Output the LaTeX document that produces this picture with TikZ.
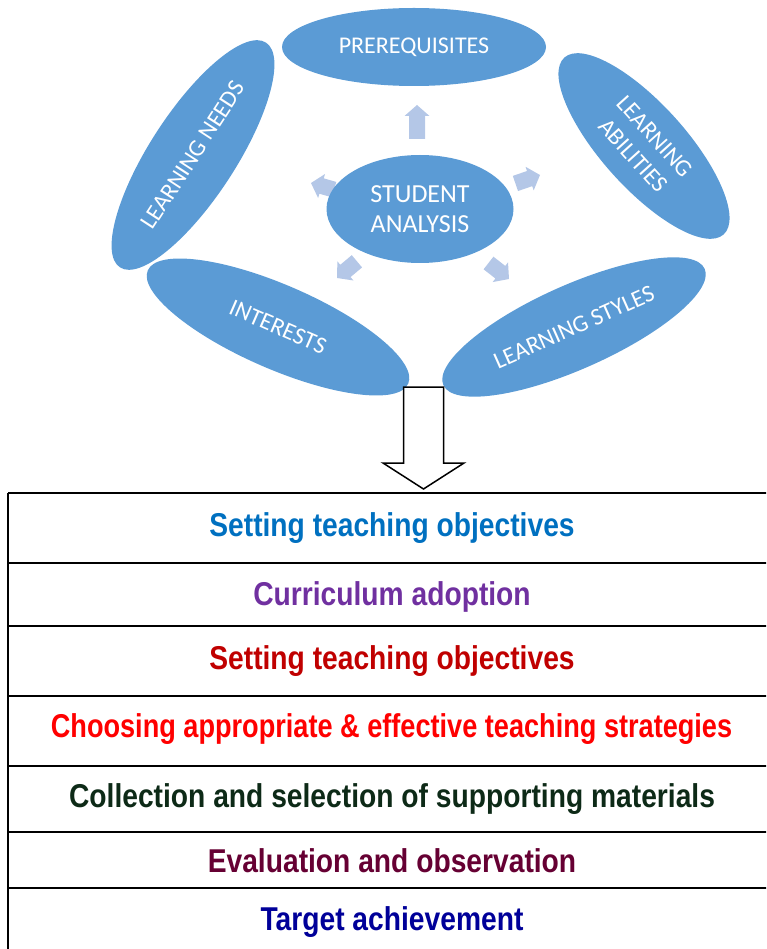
\documentclass[tikz,border=0pt]{standalone}
\usepackage{fontspec}
\setmainfont{Carlito}
\newfontfamily\tablefont{Liberation Sans}[FakeStretch=0.855]
\newfontfamily\tablefontnarrow{Liberation Sans}[FakeStretch=0.822]
\usetikzlibrary{shapes.geometric}

\definecolor{shapeblue}{HTML}{5B9BD5}
\definecolor{pointerblue}{HTML}{B4C7E7}
\definecolor{rowA}{HTML}{0070C0}
\definecolor{rowB}{HTML}{7030A0}
\definecolor{rowC}{HTML}{C00000}
\definecolor{rowD}{HTML}{FF0000}
\definecolor{rowE}{HTML}{0D2A17}
\definecolor{rowF}{HTML}{660033}
\definecolor{rowG}{HTML}{000099}

% light block arrow: tip position, direction (degrees), total length
\newcommand\pointerarrow[3]{%
  \begin{scope}[shift={#1}, rotate=#2]
    \fill[pointerblue] (0,0) -- (-11,12.5) -- (-11,8) -- (-#3,8) -- (-#3,-8)
      -- (-11,-8) -- (-11,-12.5) -- cycle;
  \end{scope}}

\begin{document}
\begin{tikzpicture}[x=1pt,y=-1pt,
  outer/.style={ellipse, fill=shapeblue, inner sep=0pt, text=white,
    align=center, font=\fontsize{24}{29}\selectfont},
  hub/.style={ellipse, fill=shapeblue, inner sep=0pt, text=white,
    align=center, font=\fontsize{26}{29.5}\selectfont},
  rule/.style={line width=1.9pt},
  rowtext/.style={anchor=base, inner sep=0pt,
    font=\tablefont\bfseries\fontsize{33}{40}\selectfont},
]
\useasboundingbox (0,0) rectangle (766,949);
\clip (0,0) rectangle (766,949);

% surrounding factors
\node[outer, minimum width=264pt, minimum height=78pt] (prereq) at (414,47) {PREREQUISITES};
\node[outer, minimum width=268pt, minimum height=86pt, rotate=57] (needs) at (193,155) {LEARNING NEEDS};
\node[outer, minimum width=238pt, minimum height=84pt, rotate=-48] (abil) at (644,146) {LEARNING\\ABILITIES};
\node[outer, minimum width=284pt, minimum height=84pt, rotate=-23.5] (interests) at (278,327) {INTERESTS};
\node[outer, minimum width=286pt, minimum height=84pt, rotate=24] (styles) at (574,327) {LEARNING STYLES};

% pointers from the hub
\pointerarrow{(417,105)}{90}{34}
\pointerarrow{(540,175)}{19}{26}
\pointerarrow{(509,279)}{-38}{26}
\pointerarrow{(337,278)}{-140}{26}
\pointerarrow{(311,183)}{164}{24}

% hub
\node[hub, minimum width=187pt, minimum height=108pt] (student) at (420,209) {STUDENT\\ANALYSIS};

% hollow arrow down to the steps
\coordinate (flowtop) at (423.5,387);
\coordinate (flowtip) at (423.5,489);
\draw[line width=1.5pt, fill=white, line join=miter]
  ([xshift=-20pt]flowtop) -- ([xshift=20pt]flowtop) -- (443.5,463) -- (464,463)
  -- (flowtip) -- (383,463) -- (403.5,463) -- cycle;

% steps table
\draw[rule] (8,493) -- (790,493);
\draw[rule] (8,493) -- (8,960);
\foreach \yy in {563,626,696,766,832,888}
  \draw[rule] (8,\yy) -- (790,\yy);

\node[rowtext, text=rowA] (s1) at (392,536) {Setting teaching objectives};
\node[rowtext, text=rowB] (s2) at (392,605.5) {Curriculum adoption};
\node[rowtext, text=rowC] (s3) at (392,669) {Setting teaching objectives};
\node[rowtext, text=rowD, font=\tablefontnarrow\bfseries\fontsize{33}{40}\selectfont] (s4) at (391.5,737) {Choosing appropriate \& effective teaching strategies};
\node[rowtext, text=rowE] (s5) at (392,807) {Collection and selection of supporting materials};
\node[rowtext, text=rowF] (s6) at (392,872) {Evaluation and observation};
\node[rowtext, text=rowG] (s7) at (392,930) {Target achievement};
\end{tikzpicture}
\end{document}
